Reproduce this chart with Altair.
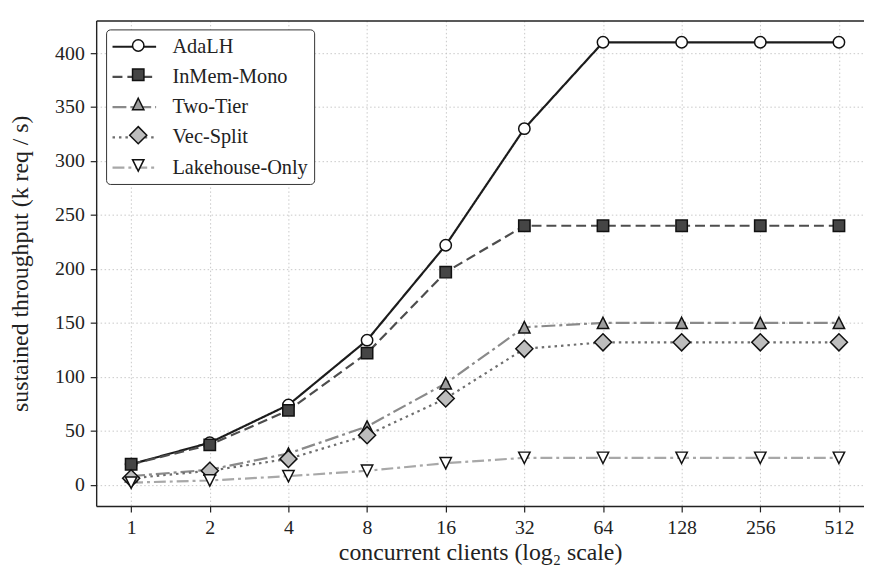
import altair as alt
import pandas as pd

# ---- data ----
clients = [1, 2, 4, 8, 16, 32, 64, 128, 256, 512]
series_names = ["AdaLH", "InMem-Mono", "Two-Tier", "Vec-Split", "Lakehouse-Only"]
adalh = [19, 39, 74, 134, 222, 330, 410, 410, 410, 410]
inmem = [19, 37, 69, 122, 197, 240, 240, 240, 240, 240]
two_tier = [8, 14, 29, 54, 94, 146, 150, 150, 150, 150]
vec_split = [6, 13, 24, 46, 80, 126, 132, 132, 132, 132]
lakehouse = [2, 4, 8, 13, 20, 25, 25, 25, 25, 25]
y_ticks = [0, 50, 100, 150, 200, 250, 300, 350, 400]

# ---- styles ----
line_colors = ["#1c1c1c", "#4d4d4d", "#8a8a8a", "#6e6e6e", "#a8a8a8"]
dashes = [[1, 0], [10, 5], [14, 4, 3, 4], [2.5, 4], [12, 4, 3, 4]]
marker_fills = ["#ffffff", "#454545", "#9e9e9e", "#bdbdbd", "#ffffff"]
marker_shapes = [
    "circle",
    "square",
    "M0,-1L1,1L-1,1Z",
    "M0,-1.5L1.5,0L0,1.5L-1.5,0Z",
    "M0,1L1,-1L-1,-1Z",
]
FONT = "Liberation Serif, Times New Roman, serif"
INK = "#222222"

rows = []
for k, (name, vals) in enumerate(zip(series_names, [adalh, inmem, two_tier, vec_split, lakehouse])):
    for c, v in zip(clients, vals):
        rows.append({"clients": c, "throughput": v, "series": name, "k": k})
df = pd.DataFrame(rows)

xscale = alt.Scale(type="log", base=2, domain=[0.7348, 638.6], nice=False)
yscale = alt.Scale(domain=[-19.6, 430.2], nice=False, zero=False)

x_bottom = alt.X(
    "clients:Q",
    scale=xscale,
    axis=alt.Axis(
        orient="bottom", values=clients, format="d",
        title="concurrent clients (log\u2082 scale)",
        labelFlush=False, labelOverlap=False, grid=True,
        labelFont=FONT, labelFontSize=20, titleFont=FONT, titleFontSize=24,
        titlePadding=3,
    ),
)
x_top = alt.X(
    "clients:Q",
    scale=xscale,
    axis=alt.Axis(orient="top", labels=False, ticks=False, grid=False, title=None, domain=True),
)
y_enc = alt.Y(
    "throughput:Q",
    scale=yscale,
    axis=alt.Axis(
        values=y_ticks, title="sustained throughput (k req / s)", grid=True,
        labelFont=FONT, labelFontSize=20, titleFont=FONT, titleFontSize=24,
        titlePadding=22,
    ),
)

lines = alt.Chart(df).mark_line(strokeWidth=2.2).encode(
    x=x_bottom,
    y=y_enc,
    color=alt.Color(
        "series:N",
        scale=alt.Scale(domain=series_names, range=line_colors),
        legend=alt.Legend(
            title=None, orient="none", legendX=10, legendY=9,
            symbolType="M-2.2,0H2.2", symbolSize=400, symbolStrokeWidth=2.2,
            symbolOffset=11, labelOffset=27, padding=6, rowPadding=8.5,
            fillColor="white", strokeColor="#333333", cornerRadius=4,
            labelFont=FONT, labelFontSize=20.5, labelColor=INK,
        ),
    ),
    strokeDash=alt.StrokeDash("series:N", scale=alt.Scale(domain=series_names, range=dashes)),
    detail="series:N",
)

points = alt.Chart(df).mark_point(
    filled=True, stroke="#111111", strokeWidth=1.5, size=132, opacity=1
).encode(
    x=x_top,
    y=alt.Y("throughput:Q", scale=yscale),
    fill=alt.Fill(
        "k:N",
        scale=alt.Scale(domain=[0, 1, 2, 3, 4], range=marker_fills),
        legend=alt.Legend(
            title=None, orient="none", legendX=10, legendY=9,
            symbolSize=132, symbolStrokeWidth=1.5, symbolStrokeColor="#111111",
            symbolOffset=16.2, padding=6, rowPadding=8.5,
            labelOpacity=0, labelFont=FONT, labelFontSize=20.5,
        ),
    ),
    shape=alt.Shape("k:N", scale=alt.Scale(domain=[0, 1, 2, 3, 4], range=marker_shapes)),
)

chart = (
    alt.layer(lines, points)
    .resolve_axis(x="independent")
    .properties(
        width=775,
        height=490,
        padding={"left": 89, "top": 10, "right": 0, "bottom": 58},
        autosize=alt.AutoSizeParams(type="none"),
        background="white",
    )
    .configure_view(stroke=None)
    .configure_axis(
        domainColor=INK, domainWidth=1.4,
        tickColor=INK, tickSize=6, tickWidth=1.2,
        labelFont=FONT, labelFontSize=20, labelColor=INK, labelPadding=6,
        titleFont=FONT, titleFontSize=24, titleColor=INK, titleFontWeight="normal",
        gridColor="#c2c2c2", gridDash=[1.5, 2.5], gridWidth=0.9,
    )
)

chart.save("out.html", embed_options={"renderer": "svg", "actions": False})
